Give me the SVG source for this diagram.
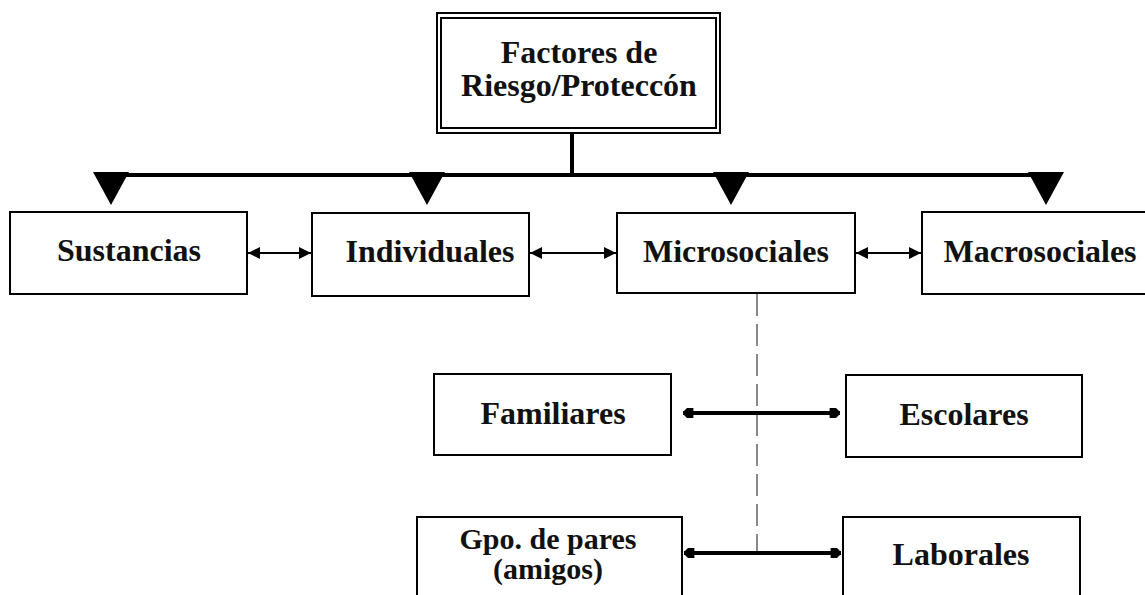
<svg xmlns="http://www.w3.org/2000/svg" width="1145" height="595" viewBox="0 0 1145 595">
<defs>
<style>
.box{fill:#fff;stroke:#000;stroke-width:2}
.t{font-family:"Liberation Serif","Times New Roman",serif;font-weight:bold;font-size:32px;fill:#111;text-anchor:middle}
.t2{font-size:30px}
.thin{stroke:#000;stroke-width:2;fill:none}
.thick{stroke:#000;stroke-width:4;fill:none}
.tri{fill:#000}
</style>
<marker id="ah" viewBox="0 0 10 10" refX="10" refY="5" markerWidth="6" markerHeight="6" orient="auto-start-reverse" markerUnits="strokeWidth">
<path d="M0,0 L10,5 L0,10 Z" fill="#000"/>
</marker>
<marker id="ahb" viewBox="0 0 10 10" refX="10" refY="5" markerWidth="3" markerHeight="2.6" orient="auto-start-reverse" markerUnits="strokeWidth">
<path d="M0,0 L6,0 L10,4 L10,6 L6,10 L0,10 Z" fill="#000"/>
</marker>
</defs>
<rect width="1145" height="595" fill="#fff"/>
<g id="connectors">
<line x1="572" y1="133" x2="572" y2="175" class="thick"/>
<line x1="110" y1="175" x2="1046" y2="175" class="thick"/>
<path class="tri" d="M93,172 L129,172 L111,205 Z"/>
<path class="tri" d="M409,172 L445,172 L427,205 Z"/>
<path class="tri" d="M713,172 L749,172 L731,205 Z"/>
<path class="tri" d="M1028,172 L1064,172 L1046,205 Z"/>
<line x1="248" y1="253" x2="311" y2="253" class="thin" marker-start="url(#ah)" marker-end="url(#ah)"/>
<line x1="530" y1="253" x2="616" y2="253" class="thin" marker-start="url(#ah)" marker-end="url(#ah)"/>
<line x1="856" y1="253" x2="921" y2="253" class="thin" marker-start="url(#ah)" marker-end="url(#ah)"/>
<line x1="757" y1="294" x2="757" y2="553" stroke="#888" stroke-width="2" stroke-dasharray="22,8"/>
<line x1="683" y1="413" x2="840" y2="413" class="thick" marker-start="url(#ahb)" marker-end="url(#ahb)"/>
<line x1="684" y1="553" x2="841" y2="553" class="thick" marker-start="url(#ahb)" marker-end="url(#ahb)"/>
</g>
<g id="root">
<rect x="437" y="13" width="283" height="120" class="box"/>
<rect x="441" y="18" width="275" height="110" class="box"/>
<text class="t" x="579" y="63">Factores de</text>
<text class="t" x="579" y="96">Riesgo/Proteccón</text>
</g>
<g id="sustancias">
<rect x="10" y="212" width="237" height="82" class="box"/>
<text class="t" x="129" y="261">Sustancias</text>
</g>
<g id="individuales">
<rect x="312" y="213" width="217" height="83" class="box"/>
<text class="t" x="430" y="262">Individuales</text>
</g>
<g id="microsociales">
<rect x="617" y="213" width="238" height="80" class="box"/>
<text class="t" x="736" y="262">Microsociales</text>
</g>
<g id="macrosociales">
<rect x="922" y="212" width="230" height="82" class="box"/>
<text class="t" x="1040" y="262">Macrosociales</text>
</g>
<g id="familiares">
<rect x="434" y="374" width="237" height="81" class="box"/>
<text class="t" x="553" y="424">Familiares</text>
</g>
<g id="escolares">
<rect x="846" y="375" width="236" height="82" class="box"/>
<text class="t" x="964" y="425">Escolares</text>
</g>
<g id="gpo">
<rect x="417" y="517" width="265" height="90" class="box"/>
<text class="t t2" x="548" y="549">Gpo. de pares</text>
<text class="t t2" x="548" y="579">(amigos)</text>
</g>
<g id="laborales">
<rect x="843" y="517" width="237" height="90" class="box"/>
<text class="t" x="961" y="565">Laborales</text>
</g>
</svg>
